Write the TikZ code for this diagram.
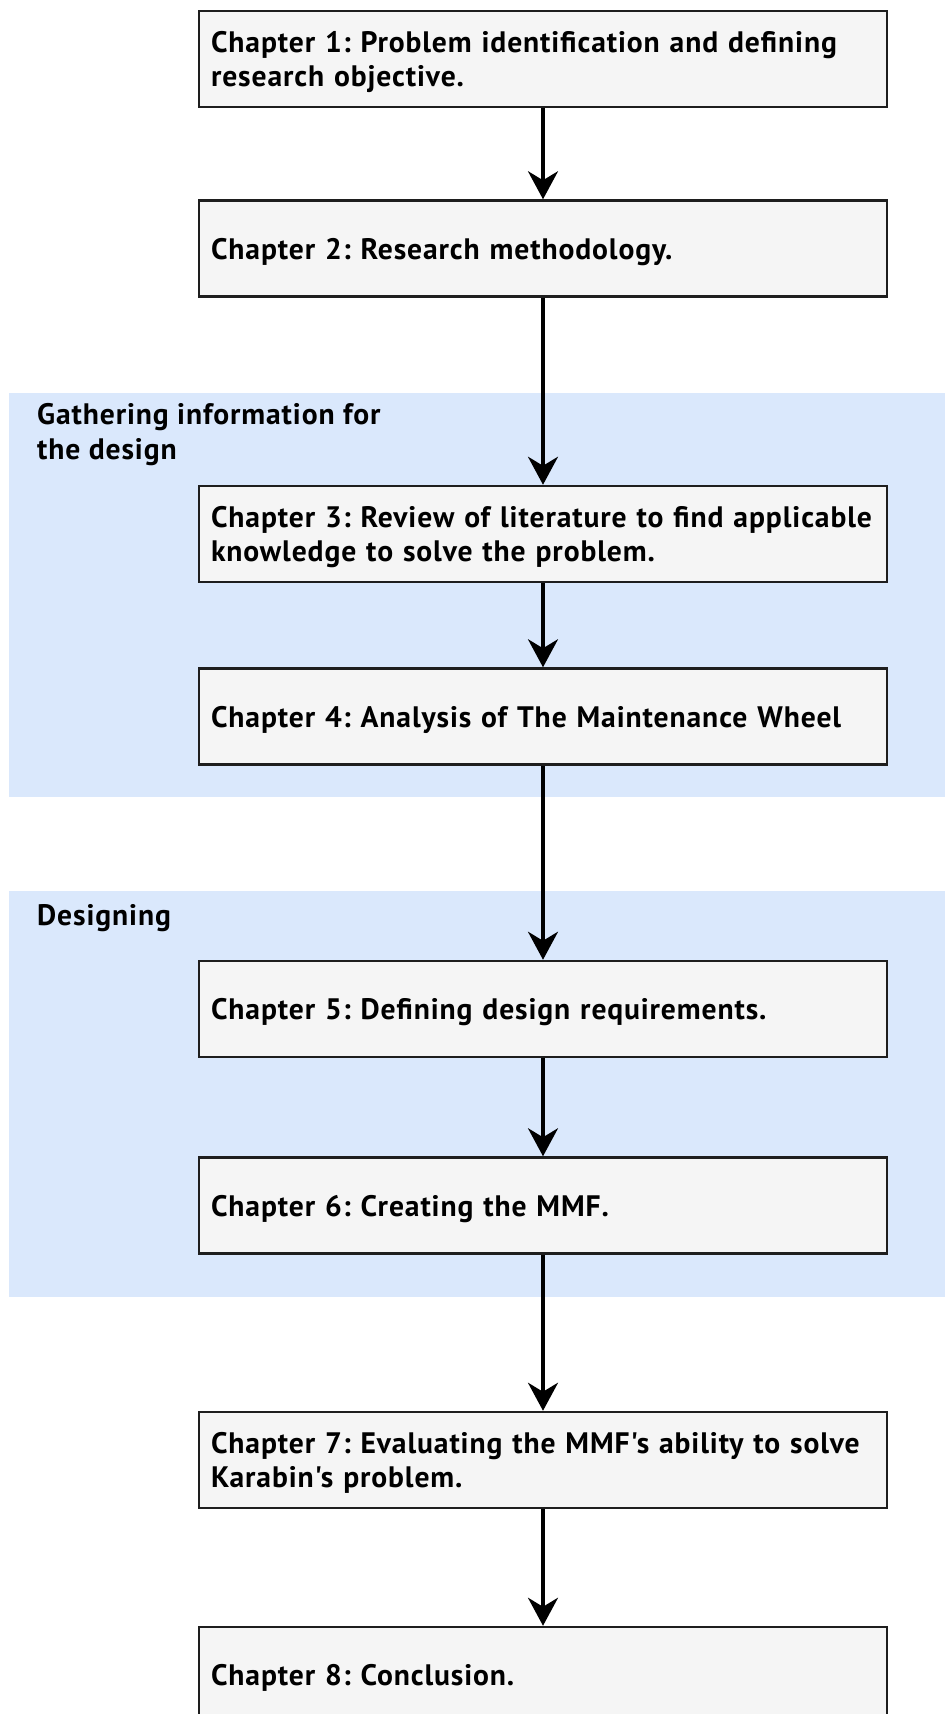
\documentclass[tikz,border=0pt]{standalone}
\usepackage{fontspec}
\setmainfont{PT Sans}
\newfontfamily\diagfont[LetterSpace=3]{PT Sans}
\usetikzlibrary{arrows.meta}
\definecolor{boxfill}{HTML}{F5F5F5}
\definecolor{boxline}{HTML}{1E1E1E}
\definecolor{groupfill}{HTML}{DAE8FC}
\tikzset{
  chapbox/.style={draw=boxline, line width=2.5pt, fill=boxfill, rectangle,
    minimum width=688pt, minimum height=96pt, text width=664pt, inner xsep=12pt,
    align=left, font=\diagfont\fontsize{29.6pt}{34pt}\selectfont\bfseries,
    text depth=0pt},
  twoline/.style={text depth=34pt},
  grouplabel/.style={inner sep=0pt, align=left, anchor=west,
    font=\diagfont\fontsize{29.6pt}{35pt}\selectfont\bfseries},
  flow/.style={line width=3.5pt, -{Stealth[length=28pt,width=30pt,inset=9pt]}}
}
\begin{document}
\frenchspacing
\begin{tikzpicture}[x=1pt,y=-1pt]
\useasboundingbox (0,0) rectangle (945,1714);
\clip (0,0) rectangle (945,1714);
\fill[white] (0,0) rectangle (945,1714);
% group backgrounds
\fill[groupfill] (9,393) rectangle (950,797);
\fill[groupfill] (9,891) rectangle (950,1297);
\node[grouplabel] (g1) at (37,435) {Gathering information for\\the design};
\node[grouplabel] (g2) at (37,918.5) {Designing};
% chapters
\node[chapbox, twoline] (c1) at (543,59) {Chapter 1: Problem identification and defining\\research objective.};
\node[chapbox] (c2) at (543,248.5) {Chapter 2: Research methodology.};
\node[chapbox, twoline] (c3) at (543,534) {Chapter 3: Review of literature to find applicable\\knowledge to solve the problem.};
\node[chapbox] (c4) at (543,716.5) {Chapter 4: Analysis of The Maintenance Wheel};
\node[chapbox] (c5) at (543,1009) {Chapter 5: Defining design requirements.};
\node[chapbox] (c6) at (543,1205.5) {Chapter 6: Creating the MMF.};
\node[chapbox, twoline] (c7) at (543,1460) {Chapter 7: Evaluating the MMF's ability to solve\\Karabin's problem.};
\node[chapbox] (c8) at (543,1675) {Chapter 8: Conclusion.};
% connectors
\draw[flow] (c1) -- (c2);
\draw[flow] (c2) -- (c3);
\draw[flow] (c3) -- (c4);
\draw[flow] (c4) -- (c5);
\draw[flow] (c5) -- (c6);
\draw[flow] (c6) -- (c7);
\draw[flow] (c7) -- (c8);
\end{tikzpicture}
\end{document}
